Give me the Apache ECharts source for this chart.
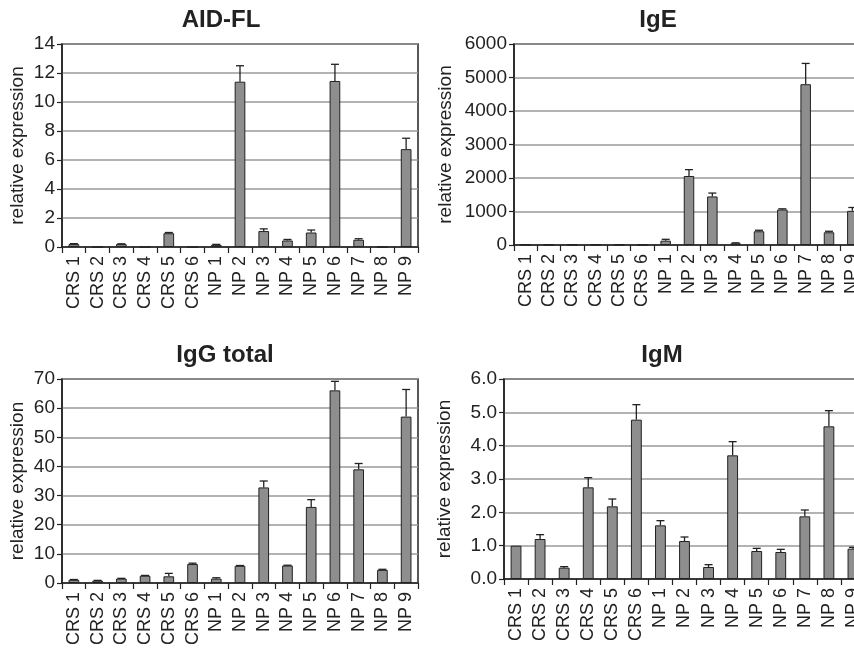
<!DOCTYPE html>
<html>
<head>
<meta charset="utf-8">
<script src="https://cdn.jsdelivr.net/npm/echarts@6/dist/echarts.min.js"></script>
<style>
html,body{margin:0;padding:0;background:#fff;}
#chart{width:854px;height:651px;}
</style>
</head>
<body>
<div id="chart"></div>
<script>
// Categories (samples)
const categories = ['CRS 1','CRS 2','CRS 3','CRS 4','CRS 5','CRS 6','NP 1','NP 2','NP 3','NP 4','NP 5','NP 6','NP 7','NP 8','NP 9'];

// Panel titles
const panelTitles = ['AID-FL', 'IgE', 'IgG total', 'IgM'];
const yAxisName = 'relative expression';

// AID-FL
const aidValues = [0.2, 0, 0.2, 0, 0.95, 0, 0.15, 11.4, 1.1, 0.45, 1.0, 11.45, 0.5, 0, 6.75];
const aidErrors = [0.03, 0, 0.02, 0, 0.05, 0, 0.03, 1.1, 0.15, 0.07, 0.17, 1.15, 0.07, 0, 0.75];
const aidTicks = [0, 14, 2];

// IgE
const igeValues = [8, 5, 5, 5, 5, 5, 130, 2060, 1450, 50, 410, 1060, 4800, 380, 1020];
const igeErrors = [0, 0, 0, 0, 0, 0, 40, 190, 100, 15, 30, 20, 620, 30, 100];
const igeTicks = [0, 6000, 1000];

// IgG total
const iggValues = [1.1, 0.8, 1.5, 2.5, 2.3, 6.5, 1.5, 5.9, 32.8, 6.0, 26.1, 66.1, 39.0, 4.5, 57.1];
const iggErrors = [0.1, 0.1, 0.1, 0.1, 1.0, 0.3, 0.3, 0.1, 2.2, 0.1, 2.5, 3.1, 2.0, 0.2, 9.3];
const iggTicks = [0, 70, 10];

// IgM
const igmValues = [1.0, 1.2, 0.34, 2.75, 2.18, 4.78, 1.61, 1.14, 0.36, 3.71, 0.84, 0.81, 1.88, 4.58, 0.91];
const igmErrors = [0, 0.13, 0.03, 0.29, 0.22, 0.45, 0.14, 0.12, 0.07, 0.41, 0.08, 0.08, 0.19, 0.47, 0.04];
const igmTicks = [0, 6, 1];

const panels = [
  {values: aidValues, errors: aidErrors, ticks: aidTicks, dec: 0},
  {values: igeValues, errors: igeErrors, ticks: igeTicks, dec: 0},
  {values: iggValues, errors: iggErrors, ticks: iggTicks, dec: 0},
  {values: igmValues, errors: igmErrors, ticks: igmTicks, dec: 1}
];

// Layout (pixels)
const grids = [
  {left: 62, width: 356, top: 44, height: 203},
  {left: 514, width: 350, top: 44, height: 201},
  {left: 62, width: 356, top: 379, height: 204},
  {left: 504, width: 361, top: 379, height: 200}
];
const titlePos = [[221, 8], [658, 8], [225, 343], [662, 343]];
const nameGaps = [35, 59, 35, 50];

const FONT = '"Liberation Sans", Arial, sans-serif';
const DARK = '#222';

const chart = echarts.init(document.getElementById('chart'), null, {renderer: 'canvas'});

function errRender(params, api) {
  const idx = api.value(0), v = api.value(1), e = api.value(2);
  if (!(e > 0)) return null;
  const p0 = api.coord([idx, v]);
  const p1 = api.coord([idx, v + e]);
  const half = 4;
  const st = {stroke: DARK, lineWidth: 1.3};
  return {
    type: 'group',
    children: [
      {type: 'line', shape: {x1: p0[0], y1: p0[1], x2: p1[0], y2: p1[1]}, style: st},
      {type: 'line', shape: {x1: p1[0] - half, y1: p1[1], x2: p1[0] + half, y2: p1[1]}, style: st}
    ]
  };
}

const option = {
  backgroundColor: '#fff',
  animation: false,
  title: panelTitles.map((t, i) => ({
    text: t,
    left: titlePos[i][0],
    top: titlePos[i][1],
    textAlign: 'center',
    padding: 0,
    textStyle: {fontFamily: FONT, fontWeight: 'bold', fontSize: 24, color: DARK}
  })),
  grid: grids.map(g => Object.assign({show: true, borderColor: DARK, borderWidth: 1.5, backgroundColor: 'transparent', containLabel: false, outerBoundsMode: 'none'}, g)),
  xAxis: panels.map((p, i) => ({
    type: 'category',
    gridIndex: i,
    data: categories,
    boundaryGap: true,
    axisLine: {lineStyle: {color: DARK, width: 1.5}},
    axisTick: {show: true, length: 6, lineStyle: {color: DARK, width: 1.2}},
    axisLabel: {rotate: 90, interval: 0, margin: 9, fontFamily: FONT, fontSize: 18, color: DARK, hideOverlap: false},
    splitLine: {show: false}
  })),
  yAxis: panels.map((p, i) => ({
    type: 'value',
    gridIndex: i,
    min: p.ticks[0],
    max: p.ticks[1],
    interval: p.ticks[2],
    name: yAxisName,
    nameLocation: 'middle',
    nameRotate: 90,
    nameGap: nameGaps[i],
    nameTextStyle: {fontFamily: FONT, fontSize: 19, color: DARK},
    axisLine: {show: true, lineStyle: {color: DARK, width: 1.5}},
    axisTick: {show: true, length: 5, lineStyle: {color: DARK, width: 1.2}},
    axisLabel: {margin: 7, fontFamily: FONT, fontSize: 19, color: DARK,
      formatter: v => v.toFixed(p.dec)},
    splitLine: {show: true, lineStyle: {color: '#9a9a9a', width: 1.5}}
  })),
  series: [].concat(
    panels.map((p, i) => ({
      type: 'bar',
      xAxisIndex: i,
      yAxisIndex: i,
      data: p.values,
      barWidth: '45%',
      itemStyle: {color: '#8e8e8e', borderColor: DARK, borderWidth: 1}
    })),
    panels.map((p, i) => ({
      type: 'custom',
      xAxisIndex: i,
      yAxisIndex: i,
      renderItem: errRender,
      encode: {x: 0, y: 1},
      z: 5,
      data: categories.map((c, k) => [k, p.values[k], p.errors[k]])
    }))
  )
};

chart.setOption(option);
</script>
</body>
</html>
